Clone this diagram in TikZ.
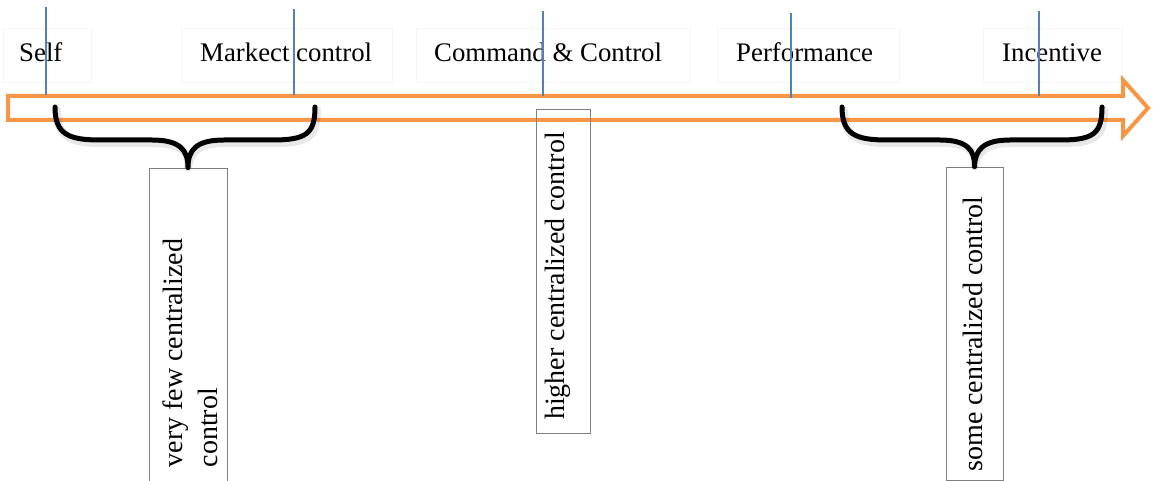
\documentclass[tikz,border=0pt]{standalone}
\usepackage{fontspec}
\setmainfont{Liberation Serif}
\definecolor{axisorange}{HTML}{F79646}
\definecolor{tickblue}{HTML}{4F81BD}
\definecolor{boxgray}{HTML}{808080}
\definecolor{faintgray}{HTML}{F7F7F7}
\tikzset{
  stage/.style={anchor=base west, inner sep=0pt, font=\fontsize{26.8}{32}\selectfont},
  stagebox/.style={draw=faintgray, line width=0.5pt},
  tick/.style={draw=tickblue, line width=1.4pt},
  axis/.style={draw=axisorange, line width=4pt, line join=miter},
  brace/.style={draw=black, line width=5pt, line cap=round, line join=round},
  braceshadow/.style={draw=black, opacity=0.09, line width=8pt, line cap=round, line join=round},
  ctrlbox/.style={draw=boxgray, line width=0.8pt, rotate=90, inner sep=0pt},
  ctrltext/.style={rotate=90, inner sep=0pt, align=left, font=\fontsize{28}{35}\selectfont}
}
\begin{document}
\begin{tikzpicture}[x=1pt, y=-1pt]
\useasboundingbox (0,0) rectangle (1153,481);

% faint frames around the stage names
\draw[stagebox] (3,28) rectangle (91,82);
\draw[stagebox] (181,28) rectangle (392,82);
\draw[stagebox] (416,28) rectangle (690,82);
\draw[stagebox] (717,28) rectangle (899,82);
\draw[stagebox] (983,28) rectangle (1122,82);

% stage names
\node[stage] (self) at (19,62) {Self};
\node[stage] (market) at (200,62) {Markect control};
\node[stage] (command) at (434,62) {Command \& Control};
\node[stage] (perf) at (736,62) {Performance};
\node[stage] (incent) at (1002,62) {Incentive};

% block arrow outline
\draw[axis] (8,96) -- (1123,96) -- (1123,80) -- (1148,108) -- (1123,136) -- (1123,120) -- (8,120) -- cycle;

% stage ticks
\coordinate (t1) at (46,7);   \coordinate (b1) at (46,95);
\coordinate (t2) at (294,9);  \coordinate (b2) at (294,95);
\coordinate (t3) at (543,11); \coordinate (b3) at (543,96);
\coordinate (t4) at (791,13); \coordinate (b4) at (791,98);
\coordinate (t5) at (1039,11);\coordinate (b5) at (1039,96);
\foreach \i in {1,...,5} \draw[tick] (t\i) -- (b\i);

% boxes below the axis
\node[ctrlbox, minimum width=330pt, minimum height=78pt] (fewbox) at (188,333) {};
\node[ctrltext] (few) at (190,353) {very few centralized\\control};

\node[ctrlbox, minimum width=324pt, minimum height=54pt] (highbox) at (563,271) {};
\node[ctrltext] (high) at (558,276) {higher centralized control};

\node[ctrlbox, minimum width=313pt, minimum height=57pt] (somebox) at (974.5,323.5) {};
\node[ctrltext] (some) at (973,334) {some centralized control};

% braces grouping stages
\foreach \style/\dx/\dy in {braceshadow/2/3, brace/0/0}{
  \draw[\style, shift={(\dx,\dy)}] (55,107) .. controls (55,134) and (68,140) .. (100,140)
    -- (152,140) .. controls (180,140) and (188,150) .. (fewbox.east)
    .. controls (188,150) and (196,140) .. (224,140)
    -- (272,140) .. controls (306,140) and (315,134) .. (315,107);
  \draw[\style, shift={(\dx,\dy)}] (842,107) .. controls (842,134) and (855,140) .. (887,140)
    -- (940,140) .. controls (967,140) and (975,150) .. (somebox.east)
    .. controls (975,150) and (983,140) .. (1010,140)
    -- (1060,140) .. controls (1093,140) and (1102,134) .. (1102,107);
}
\end{tikzpicture}
\end{document}
